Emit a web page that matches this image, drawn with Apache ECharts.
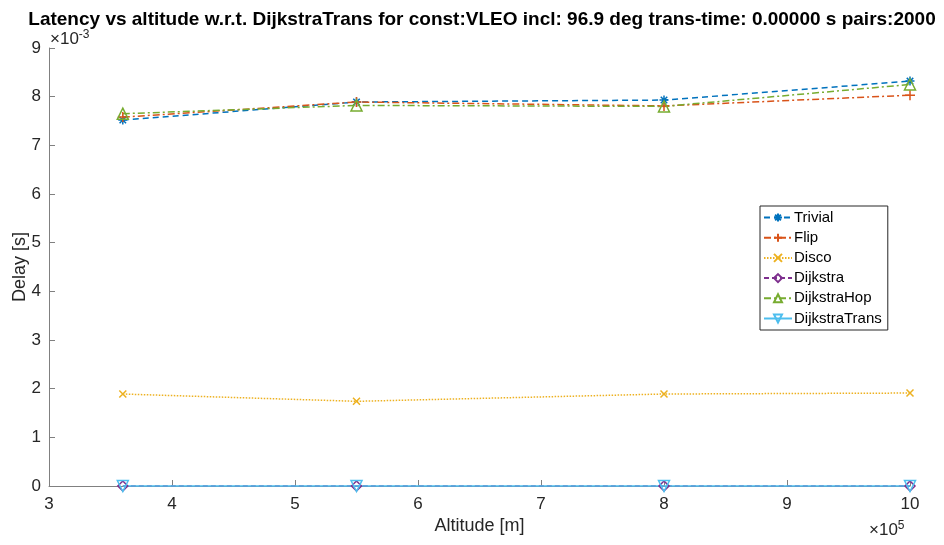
<!DOCTYPE html>
<html>
<head>
<meta charset="utf-8">
<script src="https://cdn.jsdelivr.net/npm/echarts@6/dist/echarts.min.js"></script>
<style>
  html, body { margin: 0; padding: 0; background: #fff; }
  #chart { width: 944px; height: 545px; }
</style>
</head>
<body>
<div id="chart"></div>
<script>
// Satellite altitudes [m]
const altitudes = [360000, 550000, 800000, 1000000];

// Mean end-to-end delay per routing scheme [s]
const trivial       = [0.00752, 0.00789, 0.00793, 0.00832];
const flip          = [0.00758, 0.00789, 0.00781, 0.00803];
const disco         = [0.00189, 0.00174, 0.00189, 0.00191];
const dijkstra      = [0.00000, 0.00000, 0.00000, 0.00000];
const dijkstraHop   = [0.00765, 0.00782, 0.00780, 0.00825];
const dijkstraTrans = [0.00000, 0.00000, 0.00000, 0.00000];

const seriesNames = ['Trivial', 'Flip', 'Disco', 'Dijkstra', 'DijkstraHop', 'DijkstraTrans'];
const xTicks = [3, 4, 5, 6, 7, 8, 9, 10];
const yTicks = [0, 1, 2, 3, 4, 5, 6, 7, 8, 9];

const FONT = '"Liberation Sans", Arial, Helvetica, sans-serif';
const TEXT = '#262626';
const AXIS = '#808080';

const STAR  = 'path://M0,-1L0,1M-1,0L1,0M-0.72,-0.72L0.72,0.72M-0.72,0.72L0.72,-0.72';
const PLUS  = 'path://M0,-1L0,1M-1,0L1,0';
const CROSS = 'path://M-1,-1L1,1M-1,1L1,-1';

function pairs(ys) {
  return altitudes.map((x, i) => [x, ys[i]]);
}

function makeSeries(name, ys, color, dash, symbol, size, rotate) {
  return {
    name: name,
    type: 'line',
    data: pairs(ys),
    clip: false,
    symbol: symbol,
    symbolSize: size,
    symbolRotate: rotate || 0,
    showAllSymbol: true,
    lineStyle: { color: color, width: 1.5, type: dash },
    itemStyle: { color: 'rgba(255,255,255,0)', borderColor: color, borderWidth: 1.5 },
    emphasis: { disabled: true },
    z: 3
  };
}

const supRich = { sup: { fontSize: 12, fontFamily: FONT, fill: TEXT, verticalAlign: 'top', padding: [0, 0, 9, 0] } };

const chart = echarts.init(document.getElementById('chart'), null, { renderer: 'canvas' });

chart.setOption({
  animation: false,
  backgroundColor: '#ffffff',
  textStyle: { fontFamily: FONT },
  title: {
    text: 'Latency vs altitude w.r.t. DijkstraTrans for const:VLEO incl: 96.9 deg trans-time: 0.00000 s pairs:2000',
    left: 477,
    textAlign: 'center',
    top: 5,
    textStyle: { fontFamily: FONT, fontWeight: 'bold', fontSize: 19, color: '#000' }
  },
  grid: { left: 49, right: 34, top: 48, bottom: 59, containLabel: false },
  legend: {
    orient: 'vertical',
    left: 760,
    top: 206,
    data: seriesNames,
    itemWidth: 28,
    itemHeight: 10,
    itemGap: 5.2,
    padding: [4, 6, 4, 3],
    backgroundColor: '#fff',
    borderColor: '#262626',
    borderWidth: 1,
    textStyle: { fontFamily: FONT, fontSize: 15, color: '#000', padding: [0, 0, 0, -3] }
  },
  xAxis: {
    type: 'value',
    min: 300000,
    max: 1000000,
    interval: 100000,
    name: 'Altitude [m]',
    nameLocation: 'middle',
    nameGap: 31,
    nameMoveOverlap: false,
    nameTextStyle: { fontFamily: FONT, fontSize: 18, color: TEXT },
    axisLine: { show: true, lineStyle: { color: AXIS, width: 1 } },
    axisTick: { show: true, inside: true, length: 6, lineStyle: { color: AXIS } },
    axisLabel: {
      fontFamily: FONT, fontSize: 17, color: TEXT, margin: 10,
      formatter: v => String(xTicks[Math.round(v / 100000) - 3])
    },
    splitLine: { show: false }
  },
  yAxis: {
    type: 'value',
    min: 0,
    max: 0.009,
    interval: 0.001,
    name: 'Delay [s]',
    nameLocation: 'middle',
    nameGap: 20,
    nameMoveOverlap: false,
    nameTextStyle: { fontFamily: FONT, fontSize: 18, color: TEXT },
    axisLine: { show: true, lineStyle: { color: AXIS, width: 1 } },
    axisTick: { show: true, inside: true, length: 6, lineStyle: { color: AXIS } },
    axisLabel: {
      fontFamily: FONT, fontSize: 17, color: TEXT, margin: 8,
      formatter: v => String(yTicks[Math.round(v * 1000)])
    },
    splitLine: { show: false }
  },
  graphic: [
    {
      type: 'text',
      left: 50,
      top: 29,
      style: { text: '×10{sup|-3}', font: '17px ' + FONT, fill: TEXT, rich: supRich }
    },
    {
      type: 'text',
      left: 869,
      top: 520,
      style: { text: '×10{sup|5}', font: '17px ' + FONT, fill: TEXT, rich: supRich }
    }
  ],
  series: [
    makeSeries('Trivial', trivial, '#0072BD', [6, 4], STAR, 9),
    makeSeries('Flip', flip, '#D95319', [7, 3, 2, 3], PLUS, 10),
    makeSeries('Disco', disco, '#EDB120', [1.5, 1.5], CROSS, 7),
    makeSeries('Dijkstra', dijkstra, '#7E2F8E', [5, 3], 'diamond', 10),
    makeSeries('DijkstraHop', dijkstraHop, '#77AC30', [7, 3, 2, 3], 'triangle', 11),
    makeSeries('DijkstraTrans', dijkstraTrans, '#4DBEEE', 'solid', 'triangle', 11, 180)
  ]
});
</script>
</body>
</html>
